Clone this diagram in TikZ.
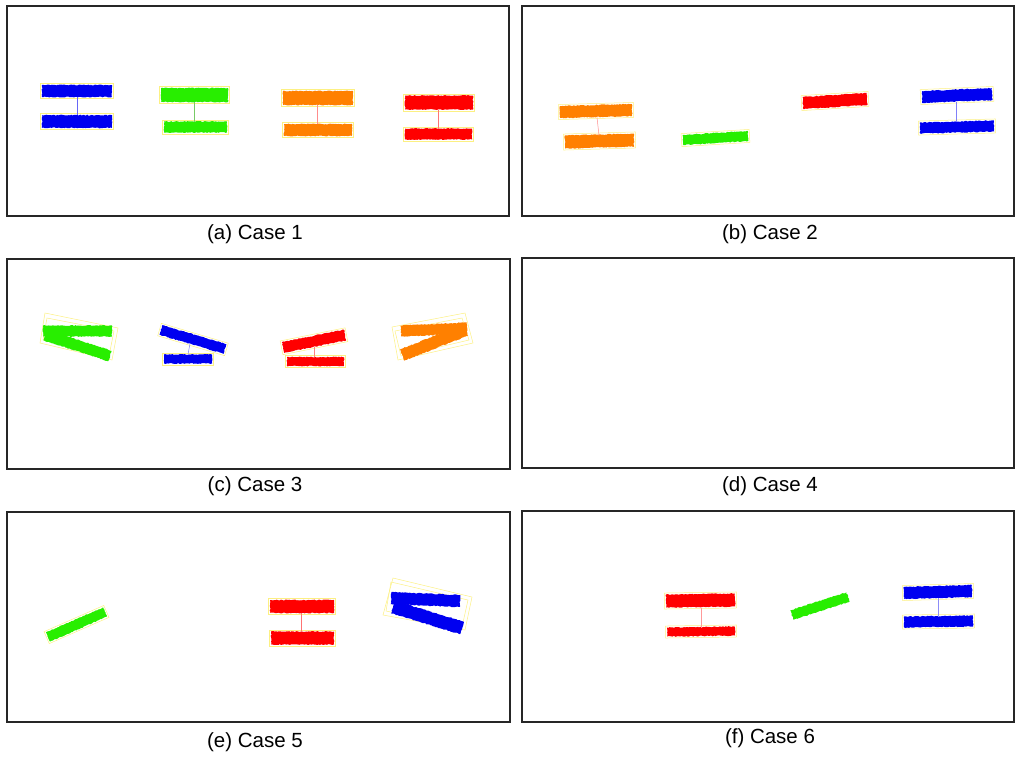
\documentclass[tikz,border=0pt]{standalone}
\usepackage{fontspec}
\setmainfont{Liberation Sans}
\usetikzlibrary{calc,decorations.pathmorphing}

\definecolor{pBlue}{RGB}{0,0,240}
\definecolor{pGreen}{RGB}{40,238,0}
\definecolor{pOrange}{RGB}{255,128,0}
\definecolor{pRed}{RGB}{255,0,0}
\definecolor{obb}{RGB}{252,240,130}

\tikzset{
  frame/.style={draw=black!85, line width=1.2pt},
  caption/.style={font=\fontsize{20.5}{24}\selectfont, inner sep=0pt},
  link/.style={line width=0.5pt},
  obbox/.style={draw=obb, line width=0.5pt},
  rough/.style={decorate, decoration={random steps, segment length=1.4pt, amplitude=0.5pt}},
}

% a segmented bar: colour, start x, start y, end x, end y, half thickness
\newcommand\bareslab[6]{%
  \coordinate (sA) at (#2,#3);
  \coordinate (sB) at (#4,#5);
  \fill[#1, rough]
    ($(sA)!#6pt!90:(sB)$) -- ($(sB)!#6pt!-90:(sA)$) --
    ($(sB)!#6pt!90:(sA)$) -- ($(sA)!#6pt!-90:(sB)$) -- cycle;
}
% the same bar with its thin oriented bounding box
\newcommand\slab[6]{%
  \bareslab{#1}{#2}{#3}{#4}{#5}{#6}%
  \coordinate (eA) at ($(sA)!-1.5pt!(sB)$);
  \coordinate (eB) at ($(sB)!-1.5pt!(sA)$);
  \draw[obbox]
    ($(eA)!#6pt+1.5pt!90:(eB)$) -- ($(eB)!#6pt+1.5pt!-90:(eA)$) --
    ($(eB)!#6pt+1.5pt!90:(eA)$) -- ($(eA)!#6pt+1.5pt!-90:(eB)$) -- cycle;
}

\begin{document}
\begin{tikzpicture}[x=1pt, y=-1pt]
\pgfmathsetseed{7}
\useasboundingbox (0,0) rectangle (1015,756);

% ---------- panel frames ----------
\draw[frame] (7,6)     rectangle (509,216);
\draw[frame] (522,6)   rectangle (1014,216);
\draw[frame] (7,259)   rectangle (510,469);
\draw[frame] (522,258) rectangle (1014,468);
\draw[frame] (7,512)   rectangle (510,722);
\draw[frame] (522,511) rectangle (1014,722);

% ---------- captions ----------
\node[caption] (capA) at (255,234) {(a) Case 1};
\node[caption] (capB) at (770,234) {(b) Case 2};
\node[caption] (capC) at (255,486) {(c) Case 3};
\node[caption] (capD) at (770,486) {(d) Case 4};
\node[caption] (capE) at (255,742) {(e) Case 5};
\node[caption] (capF) at (770,738) {(f) Case 6};

% ---------- (a) ----------
\slab{pBlue}{42}{91}{112}{91}{6}
\slab{pBlue}{42}{121.5}{112}{121.5}{6.3}
\coordinate (a1t) at (77,97);  \coordinate (a1b) at (77,115.2);
\draw[link, pBlue!60] (a1t) -- (a1b);

\slab{pGreen}{161}{95}{228}{95}{7}
\slab{pGreen}{164}{127}{227}{127}{5.5}
\coordinate (a2t) at (194,102); \coordinate (a2b) at (194,121.5);
\draw[link, pGreen!70!black!60] (a2t) -- (a2b);

\slab{pOrange}{283}{98}{353}{98}{7}
\slab{pOrange}{284}{130}{352}{130}{6}
\coordinate (a3t) at (317,105); \coordinate (a3b) at (317,124);
\draw[link, pRed!45] (a3t) -- (a3b);

\slab{pRed}{405}{102.5}{473}{102.5}{7}
\slab{pRed}{405}{134}{472}{134}{5.5}
\coordinate (a4t) at (438,109.5); \coordinate (a4b) at (438,128.5);
\draw[link, pRed!55] (a4t) -- (a4b);

% ---------- (b) ----------
\slab{pOrange}{560}{112}{632}{110}{6}
\slab{pOrange}{565}{142}{634}{140}{6.5}
\coordinate (b1t) at (597,117.5); \coordinate (b1b) at (599,135.5);
\draw[link, pRed!45] (b1t) -- (b1b);

\slab{pGreen}{683}{140}{748}{136}{5}
\slab{pRed}{803}{103}{867}{99}{6}

\slab{pBlue}{922}{97}{992}{94}{6}
\slab{pBlue}{920}{128}{994}{126}{5.5}
\coordinate (b4t) at (956,101.5); \coordinate (b4b) at (956,122);
\draw[link, pBlue!50] (b4t) -- (b4b);

% ---------- (c) ----------
\draw[obbox] (45,313) -- (118,328) -- (112,360) -- (40,343) -- cycle;
\draw[obbox] (47,318) -- (114,331) -- (109,356) -- (43,340) -- cycle;
\bareslab{pGreen}{43}{331}{112}{331}{5.5}
\bareslab{pGreen}{45}{335}{110}{356}{5.5}

\slab{pBlue}{161}{330}{225}{349}{5}
\slab{pBlue}{164}{359}{212}{359}{4.5}
\coordinate (c2t) at (190,343.5); \coordinate (c2b) at (188,354.5);
\draw[link, pBlue!50] (c2t) -- (c2b);

\slab{pRed}{283}{347.5}{345}{335}{5.5}
\slab{pRed}{287}{361.5}{344}{361.5}{4.5}
\coordinate (c3t) at (314,346.5); \coordinate (c3b) at (314,357);
\draw[link, pRed!50] (c3t) -- (c3b);

\draw[obbox] (392,327) -- (465,313) -- (473,343) -- (398,360) -- cycle;
\draw[obbox] (395,331) -- (462,318) -- (469,340) -- (401,356) -- cycle;
\bareslab{pOrange}{401}{331}{467}{328}{5.5}
\bareslab{pOrange}{402}{355}{466}{330}{6}

% ---------- (e) ----------
\slab{pGreen}{48}{637}{105}{612}{5}

\slab{pRed}{270}{606.5}{334}{606.5}{6.5}
\slab{pRed}{271}{638}{334}{638}{6.5}
\coordinate (e2t) at (301,613); \coordinate (e2b) at (301,631.5);
\draw[link, pRed!55] (e2t) -- (e2b);

\draw[obbox] (393,578) -- (472,597) -- (465,630) -- (383,615) -- cycle;
\draw[obbox] (391,582) -- (468,600) -- (462,627) -- (386,611) -- cycle;
\bareslab{pBlue}{391}{598}{460}{601}{6}
\bareslab{pBlue}{393}{607}{462}{628}{6.5}

% ---------- (f) ----------
\slab{pRed}{666}{601}{735}{600}{6.5}
\slab{pRed}{667}{632}{735}{631}{4.5}
\coordinate (f1t) at (701,607.5); \coordinate (f1b) at (701,627.5);
\draw[link, pRed!40] (f1t) -- (f1b);

\bareslab{pGreen}{792}{615}{848}{597}{5}

\slab{pBlue}{904}{593}{972}{591}{6}
\slab{pBlue}{904}{622}{973}{621}{5.5}
\coordinate (f3t) at (938,598); \coordinate (f3b) at (938,616.5);
\draw[link, pBlue!45] (f3t) -- (f3b);

\end{tikzpicture}
\end{document}
